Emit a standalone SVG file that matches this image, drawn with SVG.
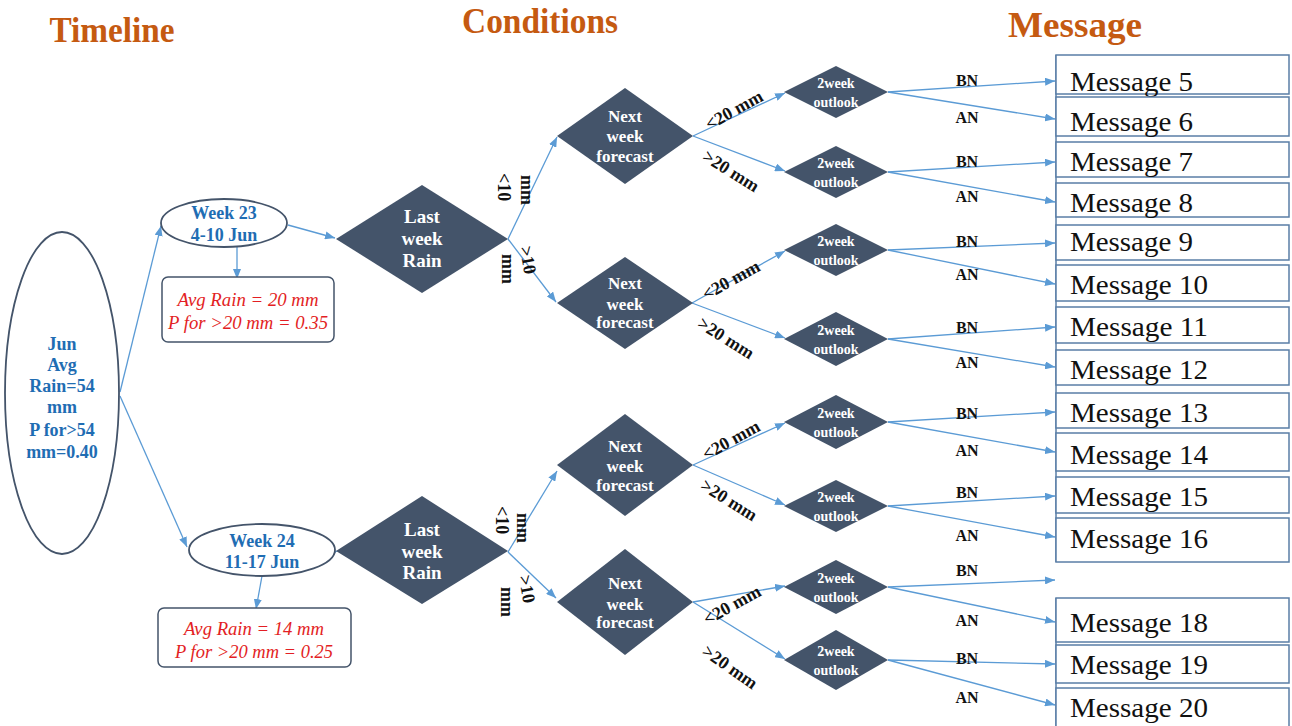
<svg xmlns="http://www.w3.org/2000/svg" width="1292" height="726" viewBox="0 0 1292 726">
<defs>
<marker id="ah" viewBox="0 0 10 8" refX="10" refY="4" markerWidth="10" markerHeight="8" markerUnits="userSpaceOnUse" orient="auto">
<path d="M0,0 L10,4 L0,8 Z" fill="#5B9BD5"/>
</marker>
<style>
.hdr{font-family:"Liberation Serif",serif;font-weight:bold;font-size:36px;fill:#C55A11;text-anchor:middle}
.ell{fill:#fff;stroke:#44546A;stroke-width:1.8}
.blue{font-family:"Liberation Serif",serif;font-weight:bold;font-size:18px;fill:#1F6DB3;text-anchor:middle}
.red{font-family:"Liberation Serif",serif;font-style:italic;font-size:19px;fill:#E31E24;text-anchor:middle}
.box{fill:#fff;stroke:#44546A;stroke-width:1.5}
.dia{fill:#44546A}
.wt{font-family:"Liberation Serif",serif;font-weight:bold;fill:#fff;text-anchor:middle}
.lwr{font-size:19px}
.nwf{font-size:17px}
.out{font-size:14px}
.con{fill:none;stroke:#5B9BD5;stroke-width:1.3;marker-end:url(#ah)}
.lbl{font-family:"Liberation Serif",serif;font-weight:bold;font-size:18px;fill:#111;text-anchor:middle}
.ba{font-family:"Liberation Serif",serif;font-weight:bold;font-size:16px;fill:#111;text-anchor:middle}
.msg{fill:#fff;stroke:#5A7EA6;stroke-width:1.5}
.mt{font-family:"Liberation Serif",serif;font-size:27px;fill:#111}
</style>
</defs>
<rect width="1292" height="726" fill="#fff"/>

<g id="headers">
<text class="hdr" x="112" y="42" textLength="125" lengthAdjust="spacingAndGlyphs">Timeline</text>
<text class="hdr" x="540" y="33" textLength="156" lengthAdjust="spacingAndGlyphs">Conditions</text>
<text class="hdr" x="1075" y="37" textLength="134" lengthAdjust="spacingAndGlyphs">Message</text>
</g>

<g id="connectors">
<path class="con" d="M120,392 L161,226"/>
<path class="con" d="M120,396 L187,547"/>
<path class="con" d="M288,225 L335,238"/>
<path class="con" d="M237,247 L237,279"/>
<path class="con" d="M262,576 L256,609"/>
<path class="con" d="M326,556 L337,551"/>
<path class="con" d="M508,239 L557,137"/>
<path class="con" d="M508,239 L556,302"/>
<path class="con" d="M508,552 L557,471"/>
<path class="con" d="M508,552 L556,598"/>
<path class="con" d="M693,136 L785,93"/>
<path class="con" d="M693,136 L785,171"/>
<path class="con" d="M692,303 L785,251"/>
<path class="con" d="M692,303 L785,338"/>
<path class="con" d="M693,465 L785,423"/>
<path class="con" d="M693,465 L785,505"/>
<path class="con" d="M693,602 L785,586"/>
<path class="con" d="M693,602 L785,659"/>
<path class="con" d="M888,92 L1055,81"/>
<path class="con" d="M888,92 L1055,119"/>
<path class="con" d="M888,172 L1055,162"/>
<path class="con" d="M888,172 L1055,202"/>
<path class="con" d="M888,250 L1055,243"/>
<path class="con" d="M888,250 L1055,284"/>
<path class="con" d="M888,339 L1055,327"/>
<path class="con" d="M888,339 L1055,367"/>
<path class="con" d="M888,422 L1055,412"/>
<path class="con" d="M888,422 L1055,452"/>
<path class="con" d="M888,506 L1055,496"/>
<path class="con" d="M888,506 L1055,537"/>
<path class="con" d="M888,587 L1055,580"/>
<path class="con" d="M888,587 L1055,622"/>
<path class="con" d="M888,660 L1055,664"/>
<path class="con" d="M888,660 L1055,705"/>
</g>

<g id="edge-labels">
<text class="lbl" transform="translate(504,187) rotate(90)" y="6">&lt;10</text>
<text class="lbl" transform="translate(527,190) rotate(90)" y="6">mm</text>
<text class="lbl" transform="translate(528,260) rotate(80)" y="6">&gt;10</text>
<text class="lbl" transform="translate(508,269) rotate(90)" y="6">mm</text>
<text class="lbl" transform="translate(502,520) rotate(90)" y="6">&lt;10</text>
<text class="lbl" transform="translate(523,528) rotate(90)" y="6">mm</text>
<text class="lbl" transform="translate(527,589) rotate(80)" y="6">&gt;10</text>
<text class="lbl" transform="translate(507,602) rotate(90)" y="6">mm</text>
<text class="lbl" transform="translate(734,110) rotate(-29)" y="6">&lt;20 mm</text>
<text class="lbl" transform="translate(731,171) rotate(32)" y="6">&gt;20 mm</text>
<text class="lbl" transform="translate(731,280) rotate(-29)" y="6">&lt;20 mm</text>
<text class="lbl" transform="translate(726,338) rotate(32)" y="6">&gt;20 mm</text>
<text class="lbl" transform="translate(731,440) rotate(-29)" y="6">&lt;20 mm</text>
<text class="lbl" transform="translate(729,500) rotate(32)" y="6">&gt;20 mm</text>
<text class="lbl" transform="translate(732,605) rotate(-29)" y="6">&lt;20 mm</text>
<text class="lbl" transform="translate(730,667) rotate(35)" y="6">&gt;20 mm</text>
<text class="ba" x="967" y="86">BN</text>
<text class="ba" x="967" y="123">AN</text>
<text class="ba" x="967" y="167">BN</text>
<text class="ba" x="967" y="202">AN</text>
<text class="ba" x="967" y="247">BN</text>
<text class="ba" x="967" y="280">AN</text>
<text class="ba" x="967" y="333">BN</text>
<text class="ba" x="967" y="368">AN</text>
<text class="ba" x="967" y="419">BN</text>
<text class="ba" x="967" y="456">AN</text>
<text class="ba" x="967" y="498">BN</text>
<text class="ba" x="967" y="541">AN</text>
<text class="ba" x="967" y="576">BN</text>
<text class="ba" x="967" y="626">AN</text>
<text class="ba" x="967" y="664">BN</text>
<text class="ba" x="967" y="703">AN</text>
</g>

<g id="jun">
<ellipse class="ell" cx="62" cy="393" rx="57" ry="161"/>
<text class="blue" x="62" y="350" font-size="22">Jun</text>
<text class="blue" x="62" y="371">Avg</text>
<text class="blue" x="62" y="392">Rain=54</text>
<text class="blue" x="62" y="413">mm</text>
<text class="blue" x="62" y="436">P for&gt;54</text>
<text class="blue" x="62" y="458">mm=0.40</text>
</g>

<g id="week23">
<ellipse class="ell" cx="224" cy="223" rx="63" ry="24"/>
<text class="blue" x="224" y="219">Week 23</text>
<text class="blue" x="224" y="241">4-10 Jun</text>
</g>
<g id="info23">
<rect class="box" x="162" y="277" width="172" height="65" rx="6"/>
<text class="red" x="248" y="306" textLength="141" lengthAdjust="spacingAndGlyphs">Avg Rain = 20 mm</text>
<text class="red" x="248" y="329" textLength="160" lengthAdjust="spacingAndGlyphs">P for &gt;20 mm = 0.35</text>
</g>

<g id="week24">
<ellipse class="ell" cx="262" cy="550" rx="73" ry="26"/>
<text class="blue" x="262" y="547">Week 24</text>
<text class="blue" x="262" y="568">11-17 Jun</text>
</g>
<g id="info24">
<rect class="box" x="158" y="608" width="193" height="59" rx="6"/>
<text class="red" x="254" y="635" textLength="140" lengthAdjust="spacingAndGlyphs">Avg Rain = 14 mm</text>
<text class="red" x="254" y="658" textLength="158" lengthAdjust="spacingAndGlyphs">P for &gt;20 mm = 0.25</text>
</g>

<g id="lwr1">
<polygon class="dia" points="336,239 422,185 508,239 422,293"/>
<text class="wt lwr" x="422" y="223">Last</text>
<text class="wt lwr" x="422" y="245">week</text>
<text class="wt lwr" x="422" y="267">Rain</text>
</g>
<g id="lwr2">
<polygon class="dia" points="336,551 422,496 508,551 422,604"/>
<text class="wt lwr" x="422" y="536">Last</text>
<text class="wt lwr" x="422" y="558">week</text>
<text class="wt lwr" x="422" y="579">Rain</text>
</g>

<g id="nwf1">
<polygon class="dia" points="557,136 625,88 693,136 625,184"/>
<text class="wt nwf" x="625" y="122">Next</text>
<text class="wt nwf" x="625" y="142">week</text>
<text class="wt nwf" x="625" y="162">forecast</text>
</g>
<g id="nwf2">
<polygon class="dia" points="557,303 625,257 693,303 625,349"/>
<text class="wt nwf" x="625" y="289">Next</text>
<text class="wt nwf" x="625" y="310">week</text>
<text class="wt nwf" x="625" y="328">forecast</text>
</g>
<g id="nwf3">
<polygon class="dia" points="557,465 625,414 693,465 625,516"/>
<text class="wt nwf" x="625" y="452">Next</text>
<text class="wt nwf" x="625" y="472">week</text>
<text class="wt nwf" x="625" y="491">forecast</text>
</g>
<g id="nwf4">
<polygon class="dia" points="557,602 625,549 693,602 625,655"/>
<text class="wt nwf" x="625" y="589">Next</text>
<text class="wt nwf" x="625" y="610">week</text>
<text class="wt nwf" x="625" y="628">forecast</text>
</g>

<g id="out1"><polygon class="dia" points="784,92 836,66 888,92 836,118"/><text class="wt out" x="836" y="88">2week</text><text class="wt out" x="836" y="107">outlook</text></g>
<g id="out2"><polygon class="dia" points="784,172 836,146 888,172 836,198"/><text class="wt out" x="836" y="168">2week</text><text class="wt out" x="836" y="187">outlook</text></g>
<g id="out3"><polygon class="dia" points="784,250 836,224 888,250 836,276"/><text class="wt out" x="836" y="246">2week</text><text class="wt out" x="836" y="265">outlook</text></g>
<g id="out4"><polygon class="dia" points="784,339 836,312 888,339 836,366"/><text class="wt out" x="836" y="335">2week</text><text class="wt out" x="836" y="354">outlook</text></g>
<g id="out5"><polygon class="dia" points="784,422 836,395 888,422 836,449"/><text class="wt out" x="836" y="418">2week</text><text class="wt out" x="836" y="437">outlook</text></g>
<g id="out6"><polygon class="dia" points="784,506 836,480 888,506 836,532"/><text class="wt out" x="836" y="502">2week</text><text class="wt out" x="836" y="521">outlook</text></g>
<g id="out7"><polygon class="dia" points="784,587 836,560 888,587 836,614"/><text class="wt out" x="836" y="583">2week</text><text class="wt out" x="836" y="602">outlook</text></g>
<g id="out8"><polygon class="dia" points="784,660 836,630 888,660 836,690"/><text class="wt out" x="836" y="656">2week</text><text class="wt out" x="836" y="675">outlook</text></g>

<g id="messages">
<line x1="1056" y1="55" x2="1056" y2="562" stroke="#5A7EA6" stroke-width="1.5"/>
<line x1="1056" y1="598" x2="1056" y2="726" stroke="#5A7EA6" stroke-width="1.5"/>
<g id="msg5"><rect class="msg" x="1056" y="55" width="233" height="39"/><text class="mt" x="1070" y="91" textLength="123" lengthAdjust="spacingAndGlyphs">Message 5</text></g>
<g id="msg6"><rect class="msg" x="1056" y="97" width="233" height="39"/><text class="mt" x="1070" y="131" textLength="123" lengthAdjust="spacingAndGlyphs">Message 6</text></g>
<g id="msg7"><rect class="msg" x="1056" y="142" width="233" height="35"/><text class="mt" x="1070" y="171" textLength="123" lengthAdjust="spacingAndGlyphs">Message 7</text></g>
<g id="msg8"><rect class="msg" x="1056" y="183" width="233" height="34"/><text class="mt" x="1070" y="212" textLength="123" lengthAdjust="spacingAndGlyphs">Message 8</text></g>
<g id="msg9"><rect class="msg" x="1056" y="225" width="233" height="35"/><text class="mt" x="1070" y="251" textLength="123" lengthAdjust="spacingAndGlyphs">Message 9</text></g>
<g id="msg10"><rect class="msg" x="1056" y="265" width="233" height="36"/><text class="mt" x="1070" y="294" textLength="138" lengthAdjust="spacingAndGlyphs">Message 10</text></g>
<g id="msg11"><rect class="msg" x="1056" y="307" width="233" height="36"/><text class="mt" x="1070" y="336" textLength="138" lengthAdjust="spacingAndGlyphs">Message 11</text></g>
<g id="msg12"><rect class="msg" x="1056" y="350" width="233" height="35"/><text class="mt" x="1070" y="379" textLength="138" lengthAdjust="spacingAndGlyphs">Message 12</text></g>
<g id="msg13"><rect class="msg" x="1056" y="393" width="233" height="35"/><text class="mt" x="1070" y="422" textLength="138" lengthAdjust="spacingAndGlyphs">Message 13</text></g>
<g id="msg14"><rect class="msg" x="1056" y="433" width="233" height="38"/><text class="mt" x="1070" y="464" textLength="138" lengthAdjust="spacingAndGlyphs">Message 14</text></g>
<g id="msg15"><rect class="msg" x="1056" y="477" width="233" height="36"/><text class="mt" x="1070" y="506" textLength="138" lengthAdjust="spacingAndGlyphs">Message 15</text></g>
<g id="msg16"><rect class="msg" x="1056" y="518" width="233" height="44"/><text class="mt" x="1070" y="548" textLength="138" lengthAdjust="spacingAndGlyphs">Message 16</text></g>
<g id="msg18"><rect class="msg" x="1056" y="598" width="233" height="44"/><text class="mt" x="1070" y="632" textLength="138" lengthAdjust="spacingAndGlyphs">Message 18</text></g>
<g id="msg19"><rect class="msg" x="1056" y="645" width="233" height="38"/><text class="mt" x="1070" y="674" textLength="138" lengthAdjust="spacingAndGlyphs">Message 19</text></g>
<g id="msg20"><rect class="msg" x="1056" y="688" width="233" height="44"/><text class="mt" x="1070" y="717" textLength="138" lengthAdjust="spacingAndGlyphs">Message 20</text></g>
</g>
</svg>
